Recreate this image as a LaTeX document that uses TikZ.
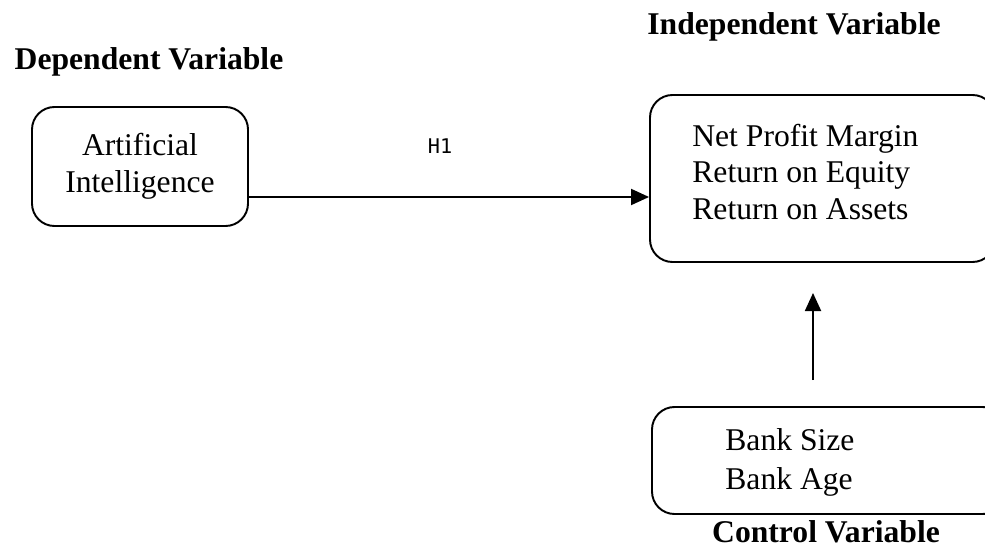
\documentclass[tikz,border=0pt]{standalone}
\usepackage{fontspec}
\setmainfont{Liberation Serif}
\newfontfamily\monofont{DejaVu Sans Mono}
\usetikzlibrary{arrows.meta}

\tikzset{
    varbox/.style={draw, line width=1.1pt, rounded corners=0.45cm, inner sep=0pt},
    vartitle/.style={font=\fontsize{18}{21}\selectfont\bfseries},
    vartext/.style={font=\fontsize{18}{21}\selectfont, align=left},
    arr/.style={-{Triangle[length=0.36cm, width=0.32cm]}, line width=1.1pt}
}

\begin{document}
\begin{tikzpicture}
        \clip (0,0) rectangle (19.7,11.08);

        % Titles
        \node[vartitle] (deptitle) at (2.98, 9.84) {Dependent Variable};
        \node[vartitle] (indtitle) at (15.88, 10.54) {Independent Variable};
        \node[vartitle] (ctrltitle) at (16.52, 0.45) {Control Variable};

        % Draw the boxes
        \node[varbox, minimum width=4.32cm, minimum height=2.38cm, align=center,
              font=\fontsize{18}{21}\selectfont] (aibox) at (2.8, 7.75)
              {Artificial\\Intelligence};
        \node[varbox, minimum width=6.9cm, minimum height=3.34cm] (perfbox) at (16.45, 7.51) {};
        \node[varbox, minimum width=7.06cm, minimum height=2.14cm] (ctrlbox) at (16.57, 1.87) {};

        % Box texts
        \node[vartext, anchor=west, inner sep=0pt] (perftext) at (13.84, 7.64)
              {Net Profit Margin\\Return on Equity\\Return on Assets};
        \node[vartext, anchor=west, inner sep=0pt] (ctrltext) at (14.5, 1.83)
              {Bank Size\\[0.04cm]Bank Age};

        % Draw the arrows
        \coordinate (aiout) at (4.96, 7.14);
        \draw[arr] (aiout) -- (aiout -| perfbox.west);
        \node[font=\monofont\fontsize{11.5}{13}\selectfont] (hone) at (8.8, 8.16) {H1};

        \coordinate (ctrlout) at (16.26, 3.48);
        \coordinate (perfin) at (16.26, 5.22);
        \draw[arr] (ctrlout) -- (perfin);
    \end{tikzpicture}
\end{document}
